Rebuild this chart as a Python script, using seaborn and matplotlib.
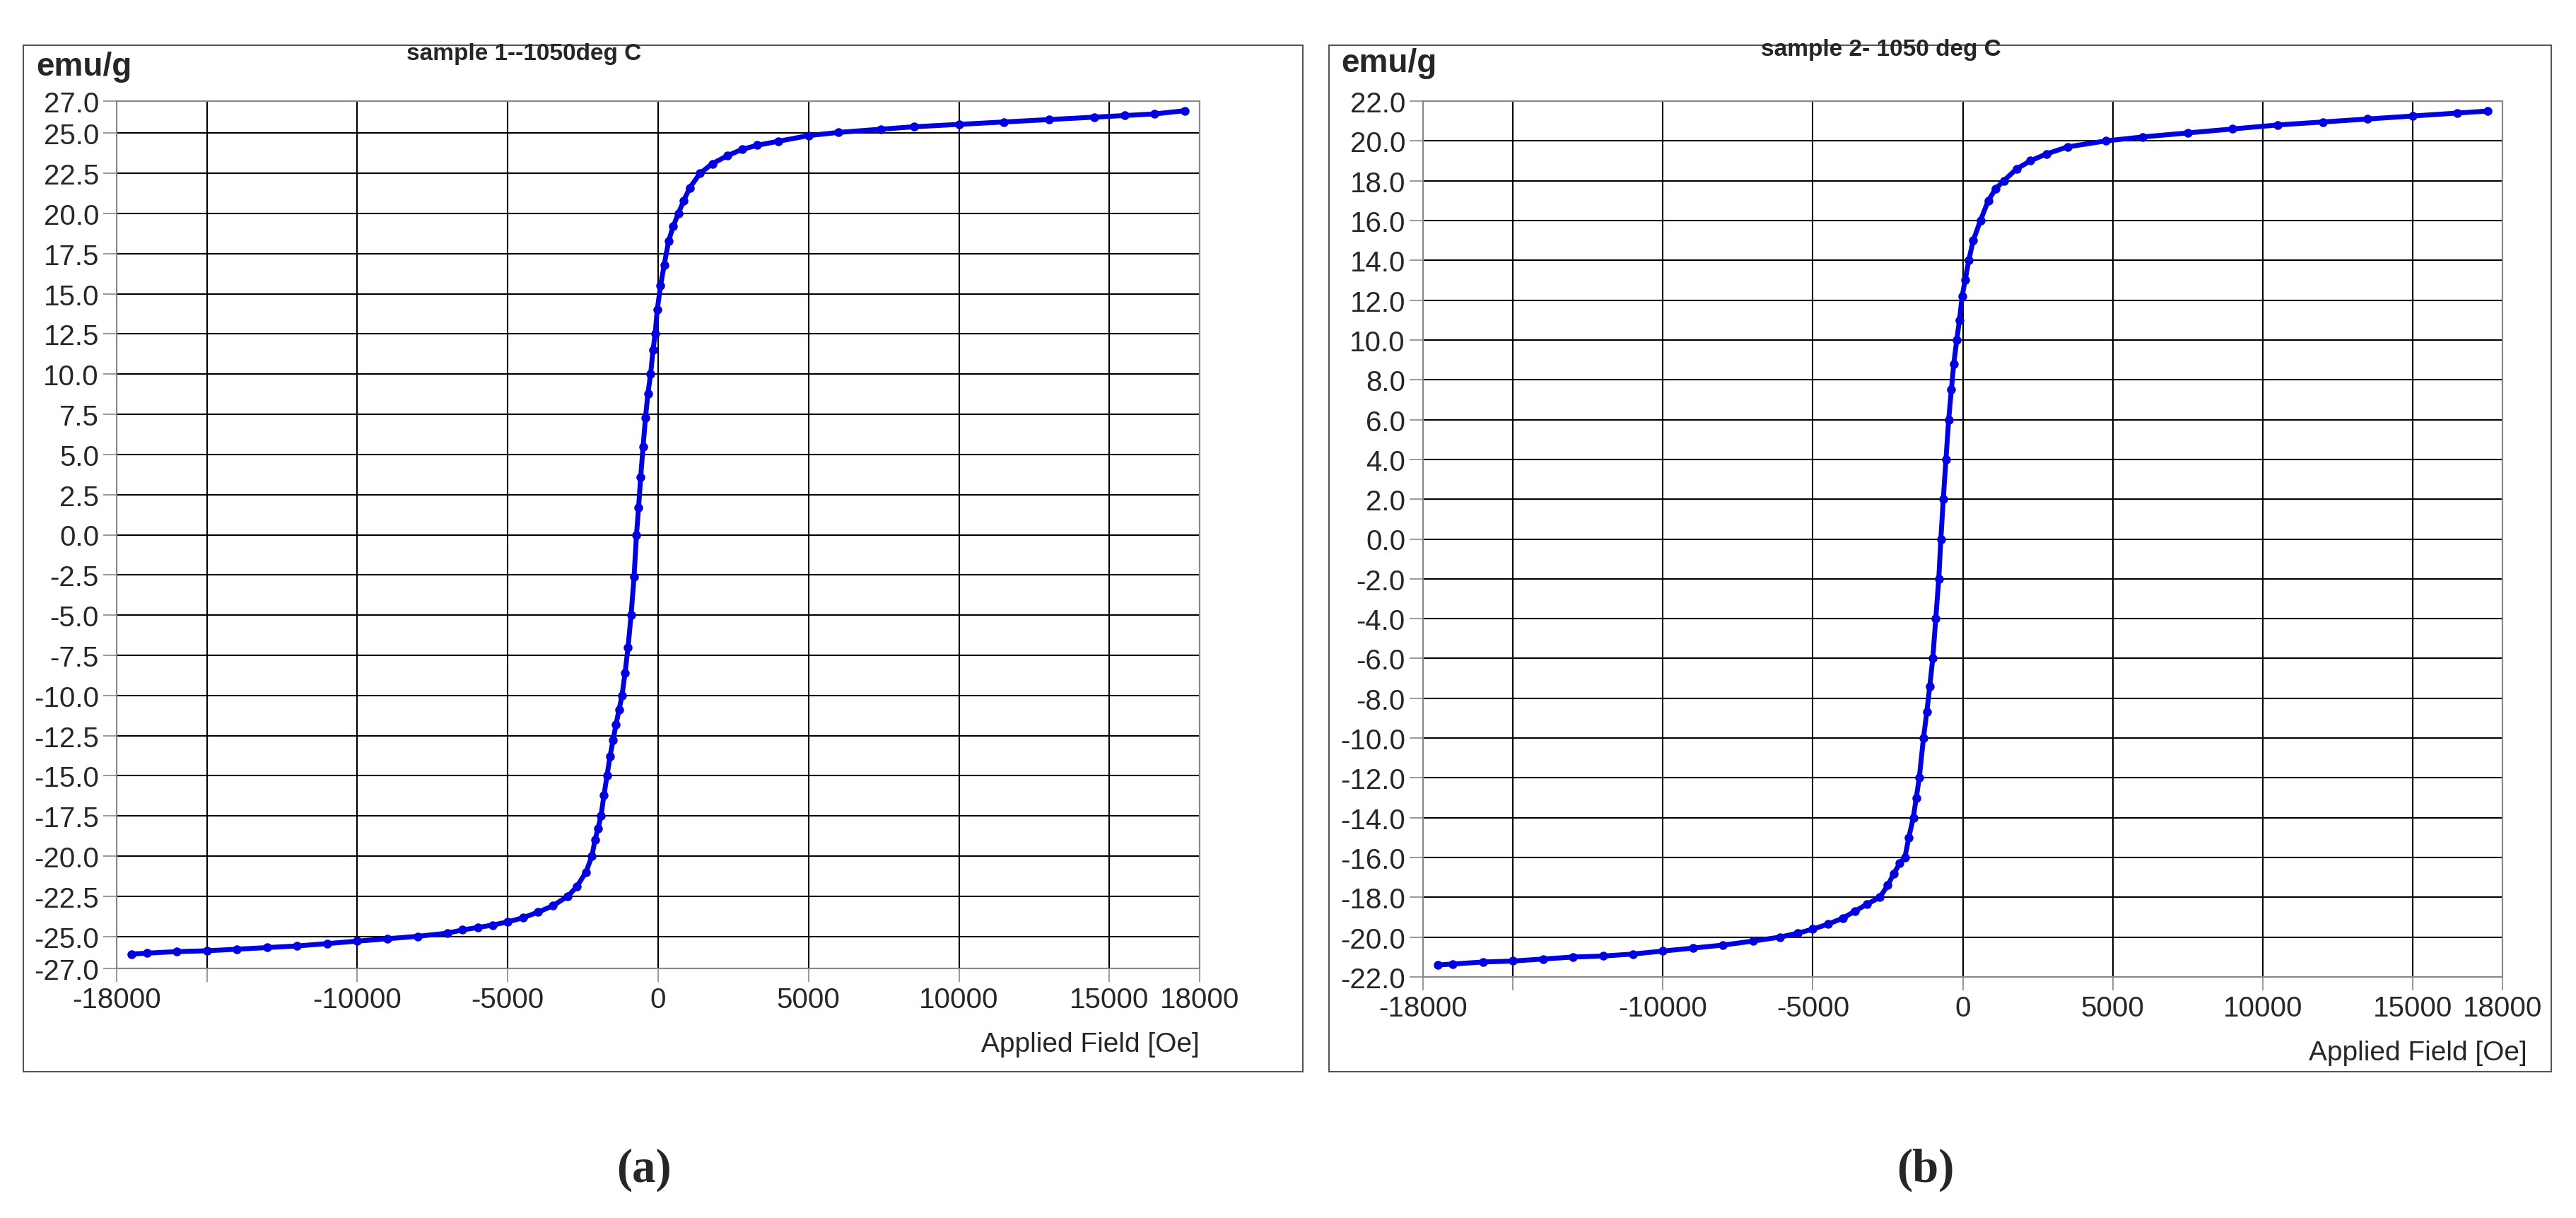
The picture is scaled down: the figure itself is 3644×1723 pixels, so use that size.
import matplotlib
matplotlib.use("Agg")
import matplotlib.pyplot as plt
import seaborn as sns
import pandas as pd
from matplotlib.patches import Rectangle

sns.set_theme(style="white")
plt.rcParams['font.family'] = ['Liberation Sans', 'DejaVu Sans']

# Sample 1 (panel a)
field_a = [-17500, -17000, -16000, -15000, -14000, -13000, -12000, -11000, -10000, -9000,
           -8000, -7000, -6500, -6000, -5500, -5000, -4500, -4000, -3500, -3000,
           -2700, -2400, -2200, -2100, -2000, -1900, -1800, -1700, -1600, -1500,
           -1400, -1300, -1200, -1100, -1000, -900, -800, -720, -650, -580,
           -500, -420, -340, -250, -170, -100, -30, 80, 200, 350,
           500, 670, 850, 1050, 1390, 1800, 2300, 2800, 3300, 4000,
           5000, 6000, 7400, 8500, 10000, 11500, 13000, 14500, 15500, 16500, 17500]
moment_a = [-26.1, -26.05, -25.95, -25.9, -25.8, -25.7, -25.6, -25.45, -25.3, -25.15,
            -25.0, -24.8, -24.6, -24.45, -24.3, -24.1, -23.85, -23.5, -23.1, -22.5,
            -21.9, -21.0, -20.0, -19.0, -18.3, -17.5, -16.2, -15.0, -13.8, -12.8,
            -11.8, -10.9, -10.0, -8.6, -7.0, -5.0, -2.6, 0.0, 1.7, 3.6,
            5.5, 7.3, 8.8, 10.0, 11.5, 12.5, 14.0, 15.5, 16.8, 18.3,
            19.2, 20.0, 20.8, 21.6, 22.5, 23.1, 23.6, 24.0, 24.25, 24.5,
            24.85, 25.05, 25.25, 25.4, 25.55, 25.7, 25.85, 26.0, 26.1, 26.2, 26.4]

# Sample 2 (panel b)
field_b = [-17500, -17000, -16000, -15000, -14000, -13000, -12000, -11000, -10000, -9000,
           -8000, -7000, -6100, -5500, -5000, -4500, -4000, -3600, -3200, -2770,
           -2500, -2300, -2100, -1930, -1800, -1650, -1550, -1450, -1310, -1200,
           -1100, -1000, -900, -800, -730, -650, -560, -470, -380, -300,
           -200, -110, -20, 80, 200, 350, 590, 850, 1100, 1370, 1800,
           2260, 2800, 3500, 4780, 6000, 7500, 9000, 10500, 12000, 13500, 15000, 16500, 17500]
moment_b = [-21.4, -21.35, -21.25, -21.2, -21.1, -21.0, -20.95, -20.85, -20.7, -20.55,
            -20.4, -20.2, -20.0, -19.8, -19.6, -19.35, -19.05, -18.7, -18.35, -18.0,
            -17.4, -16.8, -16.3, -16.0, -15.0, -14.0, -13.0, -12.0, -10.0, -8.7,
            -7.4, -6.0, -4.0, -2.0, 0.0, 2.0, 4.0, 6.0, 7.5, 8.8,
            10.0, 11.0, 12.2, 13.0, 14.0, 15.0, 16.0, 17.0, 17.6, 18.0, 18.6,
            19.0, 19.35, 19.7, 20.0, 20.2, 20.4, 20.6, 20.8, 20.95, 21.1, 21.25, 21.4, 21.5]

xticks = [-18000, -15000, -10000, -5000, 0, 5000, 10000, 15000, 18000]
xticklabels = ['-18000', '', '-10000', '-5000', '0', '5000', '10000', '15000', '18000']
yticks_a = [27, 25, 22.5, 20, 17.5, 15, 12.5, 10, 7.5, 5, 2.5, 0, -2.5, -5, -7.5, -10,
            -12.5, -15, -17.5, -20, -22.5, -25, -27]
yticks_b = list(range(22, -23, -2))

titles = ['sample 1--1050deg C', 'sample 2- 1050 deg C']
labels = ['(a)', '(b)']

W, H = 3644, 1724
fig = plt.figure(figsize=(W / 100, H / 100), dpi=100)

panels = [
    dict(x=field_a, y=moment_a, yt=yticks_a, lim=(-27, 27), ax=(165, 1697, 144, 1371),
         frame=(33, 1843, 65, 1517), lab=(911, 1655), emu=(51, 95), title=(741, 77),
         xl=(1697, 1478)),
    dict(x=field_b, y=moment_b, yt=yticks_b, lim=(-22, 22), ax=(2013, 3540, 144, 1383),
         frame=(1880, 3609, 65, 1517), lab=(2724, 1655), emu=(1897, 90), title=(2661, 70),
         xl=(3575, 1490)),
]

for i, p in enumerate(panels):
    l, r, t, b = p['ax']
    ax = fig.add_axes([l / W, 1 - b / H, (r - l) / W, (b - t) / H])
    df = pd.DataFrame({'field': p['x'], 'moment': p['y']})
    sns.lineplot(data=df, x='field', y='moment', ax=ax, color='#0000e0', lw=5,
                 marker='o', markersize=9, markeredgewidth=0, sort=False)
    ax.set_xlim(-18000, 18000)
    ax.set_ylim(*p['lim'])
    ax.set_xticks(xticks)
    ax.set_xticklabels(xticklabels)
    ax.set_yticks(p['yt'])
    ax.set_yticklabels([f'{v:.1f}' for v in p['yt']])
    ax.grid(True, color='black', lw=1.5)
    ax.tick_params(axis='both', labelsize=29, length=14, width=1.2, color='#888888',
                   direction='out', left=True, bottom=True, pad=4)
    for s in ax.spines.values():
        s.set_color('#888888')
        s.set_linewidth(1.5)
    ax.set_xlabel('')
    ax.set_ylabel('')
    fig.text(p['xl'][0] / W, 1 - p['xl'][1] / H, 'Applied Field [Oe]', ha='right',
             va='center', fontsize=28)
    fig.text(p['emu'][0] / W, 1 - p['emu'][1] / H, 'emu/g', ha='left', va='center',
             fontsize=33, fontweight='bold')
    fig.text(p['title'][0] / W, 1 - p['title'][1] / H, titles[i], ha='center',
             va='center', fontsize=24, fontweight='bold')
    fl, fr, ft, fb = p['frame']
    fig.patches.append(Rectangle((fl / W, 1 - fb / H), (fr - fl) / W, (fb - ft) / H,
                                 transform=fig.transFigure, fill=False,
                                 edgecolor='#555555', lw=1.5))
    fig.text(p['lab'][0] / W, 1 - p['lab'][1] / H, labels[i], ha='center', va='center',
             fontsize=48, fontweight='bold', family=['Liberation Serif', 'DejaVu Serif'])

fig.savefig('out.png', dpi=100, facecolor='white')
